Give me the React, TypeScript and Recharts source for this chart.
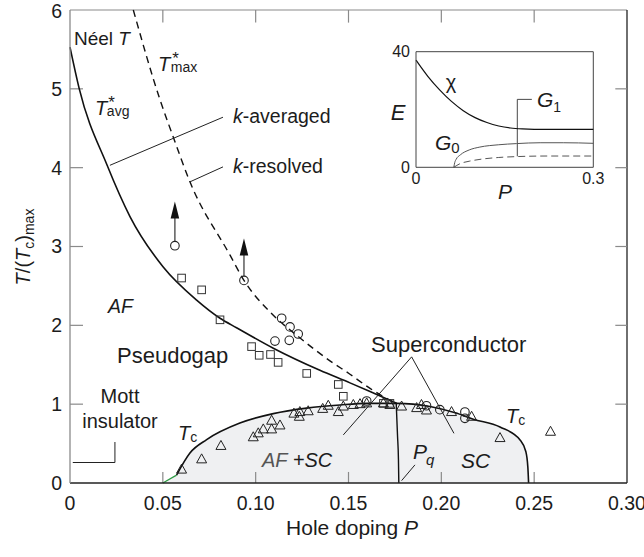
import React from "react";
import {
  ComposedChart,
  LineChart,
  Line,
  Area,
  Scatter,
  XAxis,
  YAxis,
  ReferenceLine,
} from "recharts";

const FONT = '"Liberation Sans", Arial, Helvetica, sans-serif';
const INK = "#1c1c1c";
const FRAME = "#8a8a8a";

// main panel axes
const xTicks = [0, 0.05, 0.1, 0.15, 0.2, 0.25, 0.3];
const yTicks = [0, 1, 2, 3, 4, 5, 6];
const innerXTicks = [0.05, 0.1, 0.15, 0.2, 0.25];
const innerYTicks = [1, 2, 3, 4, 5];

// Néel T / T*avg (k-averaged), solid
const tStarAvg = [
  { P: 0, T: 5.53 },
  { P: 0.005, T: 5.0 },
  { P: 0.02, T: 4.03 },
  { P: 0.0323, T: 3.38 },
  { P: 0.0502, T: 2.74 },
  { P: 0.0682, T: 2.32 },
  { P: 0.0808, T: 2.09 },
  { P: 0.0897, T: 1.97 },
  { P: 0.1095, T: 1.71 },
  { P: 0.1346, T: 1.43 },
  { P: 0.1508, T: 1.27 },
  { P: 0.1616, T: 1.16 },
  { P: 0.176, T: 1.01 },
];

// T*max (k-resolved), dashed
const tStarMax = [
  { P: 0.0341, T: 6.0 },
  { P: 0.0485, T: 4.86 },
  { P: 0.0556, T: 4.39 },
  { P: 0.0646, T: 3.82 },
  { P: 0.0862, T: 2.89 },
  { P: 0.0937, T: 2.57 },
  { P: 0.1077, T: 2.17 },
  { P: 0.1239, T: 1.84 },
  { P: 0.14, T: 1.55 },
  { P: 0.1508, T: 1.38 },
  { P: 0.1616, T: 1.2 },
  { P: 0.176, T: 1.0 },
];

// superconducting dome Tc
const tcDome = [
  { P: 0.0574, T: 0.1 },
  { P: 0.0646, T: 0.38 },
  { P: 0.0736, T: 0.55 },
  { P: 0.0915, T: 0.76 },
  { P: 0.1095, T: 0.88 },
  { P: 0.1275, T: 0.95 },
  { P: 0.1454, T: 0.99 },
  { P: 0.16, T: 1.01 },
  { P: 0.176, T: 1.01 },
  { P: 0.1939, T: 0.97 },
  { P: 0.2075, T: 0.89 },
  { P: 0.2172, T: 0.81 },
  { P: 0.2316, T: 0.71 },
  { P: 0.2423, T: 0.55 },
  { P: 0.2455, T: 0.4 },
  { P: 0.2466, T: 0.2 },
  { P: 0.247, T: 0 },
];
const tcOnset = [
  { P: 0.05, T: 0 },
  { P: 0.0574, T: 0.1 },
];
const domeFill = [...tcOnset.slice(0, 1), ...tcDome];

// Pq boundary
const pqLine = [
  { P: 0.1757, T: 1.01 },
  { P: 0.1764, T: 0.6 },
  { P: 0.1769, T: 0.3 },
  { P: 0.1771, T: 0 },
];

const squares = [
  { P: 0.0601, T: 2.6 },
  { P: 0.0709, T: 2.45 },
  { P: 0.0808, T: 2.07 },
  { P: 0.0978, T: 1.73 },
  { P: 0.1019, T: 1.62 },
  { P: 0.108, T: 1.63 },
  { P: 0.1121, T: 1.53 },
  { P: 0.1275, T: 1.39 },
  { P: 0.1445, T: 1.25 },
  { P: 0.1472, T: 1.1 },
  { P: 0.1688, T: 1.01 },
  { P: 0.1723, T: 1.01 },
];

const circles = [
  { P: 0.0565, T: 3.01 },
  { P: 0.0937, T: 2.57 },
  { P: 0.114, T: 2.09 },
  { P: 0.1185, T: 1.98 },
  { P: 0.1229, T: 1.89 },
  { P: 0.1104, T: 1.8 },
  { P: 0.1181, T: 1.81 },
  { P: 0.1598, T: 1.04 },
  { P: 0.192, T: 0.98 },
  { P: 0.1992, T: 0.93 },
  { P: 0.2127, T: 0.9 },
  { P: 0.2127, T: 0.82 },
];

const triangles = [
  { P: 0.0601, T: 0.17 },
  { P: 0.0709, T: 0.3 },
  { P: 0.0813, T: 0.47 },
  { P: 0.0987, T: 0.58 },
  { P: 0.1014, T: 0.63 },
  { P: 0.1041, T: 0.68 },
  { P: 0.1086, T: 0.68 },
  { P: 0.1086, T: 0.79 },
  { P: 0.1131, T: 0.73 },
  { P: 0.1206, T: 0.88 },
  { P: 0.1235, T: 0.84 },
  { P: 0.1238, T: 0.9 },
  { P: 0.1283, T: 0.91 },
  { P: 0.1361, T: 0.94 },
  { P: 0.1391, T: 0.98 },
  { P: 0.1445, T: 0.9 },
  { P: 0.1472, T: 0.97 },
  { P: 0.1526, T: 0.99 },
  { P: 0.1562, T: 1.0 },
  { P: 0.1598, T: 1.01 },
  { P: 0.1688, T: 1.01 },
  { P: 0.1723, T: 0.99 },
  { P: 0.1786, T: 0.97 },
  { P: 0.1867, T: 0.95 },
  { P: 0.1893, T: 0.99 },
  { P: 0.192, T: 0.92 },
  { P: 0.2055, T: 0.9 },
  { P: 0.2163, T: 0.84 },
  { P: 0.2316, T: 0.57 },
  { P: 0.2588, T: 0.65 },
];

// lower bounds with arrows (circle -> arrow tip)
const arrows = [
  { P: 0.0565, from: 3.01, to: 3.57 },
  { P: 0.0937, from: 2.57, to: 3.1 },
];
const arrowTips = arrows.map((a) => ({ P: a.P, T: a.to }));

// annotation leader lines, in data units
const leaders = [
  [{ x: 0.0215, y: 4.03 }, { x: 0.0824, y: 4.64 }],
  [{ x: 0.0646, y: 3.82 }, { x: 0.0824, y: 4.01 }],
  [{ x: 0.0242, y: 0.52 }, { x: 0.0242, y: 0.26 }],
  [{ x: 0.0242, y: 0.26 }, { x: 0.0015, y: 0.26 }],
  [{ x: 0.184, y: 1.6 }, { x: 0.1472, y: 0.61 }],
  [{ x: 0.184, y: 1.6 }, { x: 0.2068, y: 0.63 }],
  [{ x: 0.1858, y: 0.23 }, { x: 0.1786, y: 0.03 }],
];

// inset: E vs P
const insetX = [0, 0.3];
const insetY = [0, 40];
const chi = [
  { P: 0, E: 37.1 },
  { P: 0.02, E: 31.5 },
  { P: 0.04, E: 26.8 },
  { P: 0.06, E: 22.8 },
  { P: 0.08, E: 19.6 },
  { P: 0.1, E: 17.2 },
  { P: 0.12, E: 15.5 },
  { P: 0.14, E: 14.3 },
  { P: 0.16, E: 13.6 },
  { P: 0.18, E: 13.3 },
  { P: 0.22, E: 13.1 },
  { P: 0.3, E: 13.1 },
];
const g0 = [
  { P: 0.064, E: 0 },
  { P: 0.0655, E: 1.6 },
  { P: 0.068, E: 2.8 },
  { P: 0.075, E: 4.3 },
  { P: 0.09, E: 6.0 },
  { P: 0.108, E: 7.0 },
  { P: 0.14, E: 7.8 },
  { P: 0.17, E: 8.2 },
  { P: 0.21, E: 8.5 },
  { P: 0.25, E: 8.5 },
  { P: 0.3, E: 8.3 },
];
const g1 = [
  { P: 0.064, E: 0 },
  { P: 0.075, E: 1.3 },
  { P: 0.09, E: 2.1 },
  { P: 0.11, E: 2.8 },
  { P: 0.14, E: 3.4 },
  { P: 0.17, E: 3.7 },
  { P: 0.22, E: 3.9 },
  { P: 0.3, E: 3.9 },
];
const g1Leader = [
  [{ x: 0.1714, y: 3.8 }, { x: 0.1714, y: 23.5 }],
  [{ x: 0.1714, y: 23.5 }, { x: 0.196, y: 23.5 }],
];

const Triangle = (props: any) => {
  const { cx, cy } = props;
  if (cx == null || cy == null) return null;
  return (
    <path
      d={`M${cx},${cy - 5.5} L${cx + 5},${cy + 3.5} L${cx - 5},${cy + 3.5} Z`}
      fill="none"
      stroke="#222"
      strokeWidth={1}
    />
  );
};

const Square = (props: any) => {
  const { cx, cy } = props;
  if (cx == null || cy == null) return null;
  return <rect x={cx - 3.8} y={cy - 3.8} width={7.6} height={7.6} fill="none" stroke="#333" strokeWidth={1} />;
};

const Circle = (props: any) => {
  const { cx, cy } = props;
  if (cx == null || cy == null) return null;
  return <circle cx={cx} cy={cy} r={4.3} fill="none" stroke="#222" strokeWidth={1.1} />;
};

const ArrowHead = (props: any) => {
  const { cx, cy } = props;
  if (cx == null || cy == null) return null;
  return <path d={`M${cx},${cy} L${cx + 4.3},${cy + 17} L${cx - 4.3},${cy + 17} Z`} fill="#111" />;
};

const fmtX = (v: number) => (v === 0 ? "0" : v.toFixed(2));

const Inset = () => (
  <div style={{ position: "absolute", left: 360, top: 30 }}>
    <LineChart width={250} height={180} margin={{ top: 21.7, right: 16.7, left: 0, bottom: 0 }}>
      <XAxis
        type="number"
        dataKey="P"
        domain={[0, 0.3]}
        ticks={insetX}
        tickFormatter={(v: number) => (v === 0 ? "0" : String(v))}
        tickSize={0}
        tickMargin={5}
        height={42.7}
        axisLine={{ stroke: "#444", strokeWidth: 1 }}
        tick={{ fontSize: 16, fill: INK, fontFamily: FONT }}
      />
      <YAxis
        type="number"
        dataKey="E"
        domain={[0, 40]}
        ticks={insetY}
        tickSize={0}
        tickMargin={6}
        width={56}
        axisLine={{ stroke: "#444", strokeWidth: 1 }}
        tick={{ fontSize: 16, fill: INK, fontFamily: FONT }}
      />
      <ReferenceLine y={40} stroke="#444" strokeWidth={1} />
      <ReferenceLine x={0.3} stroke="#444" strokeWidth={1} />
      {g1Leader.map((s, i) => (
        <ReferenceLine key={"gl" + i} segment={s} stroke="#333" strokeWidth={0.9} />
      ))}
      <Line data={chi} dataKey="E" type="monotone" stroke="#111" strokeWidth={1.2} dot={false} isAnimationActive={false} />
      <Line data={g0} dataKey="E" type="monotone" stroke="#555" strokeWidth={1} dot={false} isAnimationActive={false} />
      <Line
        data={g1}
        dataKey="E"
        type="monotone"
        stroke="#555"
        strokeWidth={1}
        strokeDasharray="7 4"
        dot={false}
        isAnimationActive={false}
      />
    </LineChart>
  </div>
);

export default function App() {
  return (
    <div style={{ position: "absolute", left: 0, top: 0, width: 644, height: 557, background: "#fff", fontFamily: FONT }}>
      <ComposedChart width={644} height={557} margin={{ top: 10, right: 17, left: 0, bottom: 0 }}>
        <XAxis
          type="number"
          dataKey="P"
          domain={[0, 0.3]}
          ticks={xTicks}
          tickFormatter={fmtX}
          tickSize={0}
          tickMargin={13}
          height={74}
          axisLine={{ stroke: "#222", strokeWidth: 1.3 }}
          tick={{ fontSize: 19.5, fill: INK, fontFamily: FONT }}
        />
        <YAxis
          type="number"
          dataKey="T"
          domain={[0, 6]}
          ticks={yTicks}
          tickSize={0}
          tickMargin={8}
          width={70}
          axisLine={{ stroke: FRAME, strokeWidth: 1.3 }}
          tick={{ fontSize: 19.5, fill: INK, fontFamily: FONT }}
        />
        <ReferenceLine y={6} stroke={FRAME} strokeWidth={1.2} />
        <ReferenceLine x={0.3} stroke="#222" strokeWidth={1.3} />
        {innerXTicks.map((p) => (
          <ReferenceLine key={"b" + p} segment={[{ x: p, y: 0 }, { x: p, y: 0.14 }]} stroke={FRAME} strokeWidth={1.2} />
        ))}
        {innerXTicks.map((p) => (
          <ReferenceLine key={"t" + p} segment={[{ x: p, y: 6 }, { x: p, y: 5.84 }]} stroke={FRAME} strokeWidth={1.2} />
        ))}
        {innerYTicks.map((t) => (
          <ReferenceLine key={"l" + t} segment={[{ x: 0, y: t }, { x: 0.007, y: t }]} stroke={FRAME} strokeWidth={1.2} />
        ))}
        {innerYTicks.map((t) => (
          <ReferenceLine key={"r" + t} segment={[{ x: 0.3, y: t }, { x: 0.2937, y: t }]} stroke={FRAME} strokeWidth={1.2} />
        ))}

        <Area
          data={domeFill}
          dataKey="T"
          type="monotone"
          fill="#eff0f2"
          fillOpacity={1}
          stroke="none"
          isAnimationActive={false}
        />
        <Line data={tcDome} dataKey="T" type="monotone" stroke="#111" strokeWidth={1.6} dot={false} isAnimationActive={false} />
        <Line data={tcOnset} dataKey="T" type="linear" stroke="#2f9a45" strokeWidth={1.4} dot={false} isAnimationActive={false} />
        <Line data={pqLine} dataKey="T" type="monotone" stroke="#111" strokeWidth={1.4} dot={false} isAnimationActive={false} />
        <Line data={tStarAvg} dataKey="T" type="monotone" stroke="#111" strokeWidth={1.6} dot={false} isAnimationActive={false} />
        <Line
          data={tStarMax}
          dataKey="T"
          type="monotone"
          stroke="#111"
          strokeWidth={1.4}
          strokeDasharray="7 5"
          dot={false}
          isAnimationActive={false}
        />

        {leaders.map((s, i) => (
          <ReferenceLine key={"ld" + i} segment={s} stroke="#222" strokeWidth={1} />
        ))}
        {arrows.map((a, i) => (
          <ReferenceLine
            key={"ar" + i}
            segment={[{ x: a.P, y: a.from + 0.055 }, { x: a.P, y: a.to - 0.15 }]}
            stroke="#333"
            strokeWidth={1.2}
          />
        ))}

        <Scatter data={squares} dataKey="T" shape={Square} isAnimationActive={false} />
        <Scatter data={circles} dataKey="T" shape={Circle} isAnimationActive={false} />
        <Scatter data={triangles} dataKey="T" shape={Triangle} isAnimationActive={false} />
        <Scatter data={arrowTips} dataKey="T" shape={ArrowHead} isAnimationActive={false} />
      </ComposedChart>

      <Inset />

      <svg
        width={644}
        height={557}
        style={{ position: "absolute", left: 0, top: 0, pointerEvents: "none" }}
        fontFamily={FONT}
        fill={INK}
      >
        {/* axis titles */}
        <text x={352} y={535} fontSize={21} textAnchor="middle">
          Hole doping <tspan fontStyle="italic">P</tspan>
        </text>
        <text x={30} y={247} fontSize={20} textAnchor="middle" transform="rotate(-90 30 247)">
          <tspan fontStyle="italic">T</tspan>/(<tspan fontStyle="italic">T</tspan>
          <tspan fontSize={14} dy={4}>c</tspan>
          <tspan dy={-4}>)</tspan>
          <tspan fontSize={14} dy={4}>max</tspan>
        </text>

        {/* curve labels */}
        <text x={74} y={45} fontSize={19}>
          Néel <tspan fontStyle="italic">T</tspan>
        </text>
        <text x={158} y={71} fontSize={20}>
          <tspan fontStyle="italic">T</tspan>
          <tspan fontSize={17} dx={2} dy={-7}>*</tspan>
          <tspan fontSize={14} dx={-8} dy={8}>max</tspan>
        </text>
        <text x={95} y={115} fontSize={20}>
          <tspan fontStyle="italic">T</tspan>
          <tspan fontSize={17} dx={1} dy={-7}>*</tspan>
          <tspan fontSize={14} dx={-8} dy={8}>avg</tspan>
        </text>
        <text x={233} y={123} fontSize={19.5}>
          <tspan fontStyle="italic">k</tspan>-averaged
        </text>
        <text x={233} y={173} fontSize={19.5}>
          <tspan fontStyle="italic">k</tspan>-resolved
        </text>

        {/* regions */}
        <text x={108} y={313} fontSize={19.5} fontStyle="italic">AF</text>
        <text x={117} y={363} fontSize={22}>Pseudogap</text>
        <text x={120} y={403} fontSize={20} textAnchor="middle">Mott</text>
        <text x={120} y={428} fontSize={20} textAnchor="middle">insulator</text>
        <text x={178} y={440} fontSize={20}>
          <tspan fontStyle="italic">T</tspan>
          <tspan fontSize={14} dy={2}>c</tspan>
        </text>
        <text x={262} y={467} fontSize={20} fontStyle="italic">
          <tspan fill="#555">AF</tspan> +SC
        </text>
        <text x={413} y={459} fontSize={21} fontStyle="italic">
          P<tspan fontSize={15} dx={-1} dy={6}>q</tspan>
        </text>
        <text x={461} y={468} fontSize={21} fontStyle="italic">SC</text>
        <text x={371} y={352} fontSize={22}>Superconductor</text>
        <text x={506} y={423} fontSize={20}>
          <tspan fontStyle="italic">T</tspan>
          <tspan fontSize={14} dy={2}>c</tspan>
        </text>

        {/* inset labels */}
        <text x={505} y={199} fontSize={21} fontStyle="italic" textAnchor="middle">P</text>
        <text x={398} y={120} fontSize={22} fontStyle="italic" textAnchor="middle">E</text>
        <text x={451} y={89} fontSize={20} textAnchor="middle">χ</text>
        <text x={537} y={107} fontSize={21}>
          <tspan fontStyle="italic">G</tspan>
          <tspan fontSize={14} dy={5}>1</tspan>
        </text>
        <text x={435} y={150} fontSize={21}>
          <tspan fontStyle="italic">G</tspan>
          <tspan fontSize={15} dy={3}>0</tspan>
        </text>
      </svg>
    </div>
  );
}
